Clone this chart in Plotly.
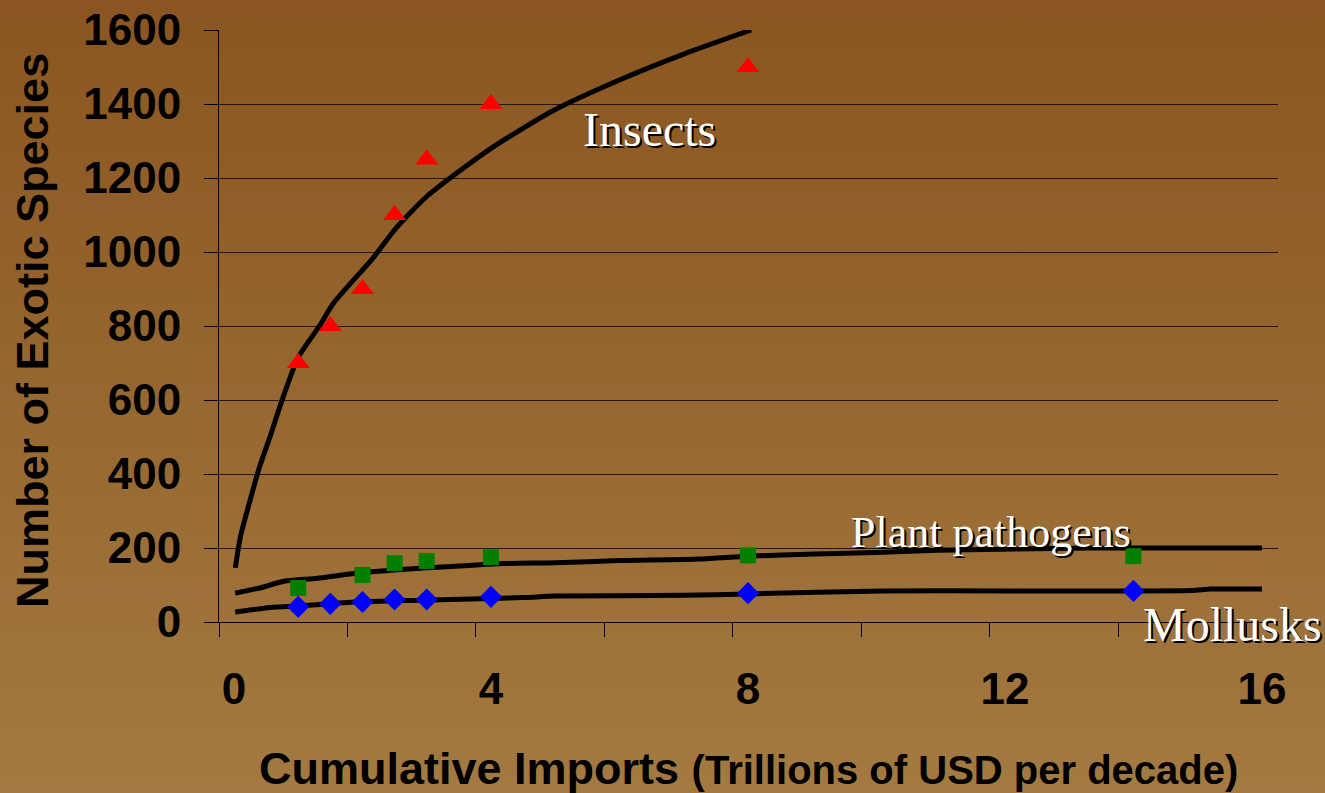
import base64
import plotly.graph_objects as go

# ---------------- data ----------------
insect_x = [1, 1.5, 2, 2.5, 3, 4, 8]
insect_y = [700, 800, 900, 1100, 1250, 1400, 1500]

path_x = [1, 2, 2.5, 3, 4, 8, 14]
path_y = [92, 127, 159, 165, 175, 180, 178]

moll_x = [1, 1.5, 2, 2.5, 3, 4, 8, 14]
moll_y = [41, 49, 54, 61, 61, 68, 78, 84]

# fitted curves
ins_fit_x = [0.02, 0.1, 0.26, 0.4, 0.57, 0.73, 1.0, 1.35, 1.55, 2.17, 2.5, 3.0, 4.0, 5.0, 6.0, 7.0, 8.05]
ins_fit_y = [146, 230, 335, 420, 505, 590, 715, 805, 862, 985, 1060, 1150, 1280, 1385, 1465, 1535, 1600]

path_fit_x = [0.02, 0.4, 0.78, 1.3, 1.8, 2.6, 3.3, 4.2, 5.0, 6.0, 7.25, 8.0, 9.05, 10.0, 10.96, 13.3, 16]
path_fit_y = [78, 92, 110, 118, 130, 142, 149, 158, 160, 166, 170, 178, 184, 188, 194, 200, 200]

moll_fit_x = [0.02, 0.6, 1.0, 1.9, 2.9, 4.5, 5.0, 7.0, 8.0, 10.1, 12.0, 14.9, 15.2, 16]
moll_fit_y = [27, 40, 43, 54, 59, 66, 70, 72, 76, 84, 84, 85, 89, 89]

x_ticks = [0, 4, 8, 12, 16]
y_ticks = [0, 200, 400, 600, 800, 1000, 1200, 1400, 1600]

labels = ["Insects", "Plant pathogens", "Mollusks"]

# ---------------- layout geometry ----------------
W, H = 1325, 793
ML, MR, MT, MB = 219, 47, 30, 171
PW, PH = W - ML - MR, H - MT - MB


def px_x(p):
    return (p - ML) / PW


def px_y(p):
    return 1 - (p - MT) / PH


svg = (
    '<svg xmlns="http://www.w3.org/2000/svg" width="1325" height="793">'
    '<defs><linearGradient id="g" x1="0" y1="0" x2="0" y2="1">'
    '<stop offset="0" stop-color="#8A5520"/>'
    '<stop offset="1" stop-color="#A37A41"/>'
    '</linearGradient></defs>'
    '<rect width="1325" height="793" fill="url(#g)"/></svg>'
)
bg_src = "data:image/svg+xml;base64," + base64.b64encode(svg.encode()).decode()

fig = go.Figure()

for fx, fy in [(ins_fit_x, ins_fit_y), (path_fit_x, path_fit_y), (moll_fit_x, moll_fit_y)]:
    fig.add_trace(go.Scatter(x=fx, y=fy, mode="lines",
                             line=dict(color="black", width=5, shape="spline", smoothing=0.6),
                             hoverinfo="skip", showlegend=False))

fig.add_trace(go.Scatter(x=insect_x, y=insect_y, mode="markers",
                         marker=dict(symbol="triangle-up", color="#FF0000", size=20),
                         name="Insects", showlegend=False))
fig.add_trace(go.Scatter(x=path_x, y=path_y, mode="markers",
                         marker=dict(symbol="square", color="#008000", size=16),
                         name="Plant pathogens", showlegend=False))
fig.add_trace(go.Scatter(x=moll_x, y=moll_y, mode="markers",
                         marker=dict(symbol="diamond", color="#0000FF", size=17),
                         name="Mollusks", showlegend=False))

tick_font = dict(family="Liberation Sans, Arial, sans-serif", size=44, color="black", weight="bold")

fig.update_xaxes(
    range=[-0.233, 16.25], tickvals=x_ticks, ticktext=[str(v) for v in x_ticks],
    ticks="", showgrid=False, zeroline=False,
    showline=True, linecolor="black", linewidth=1,
    tickfont=tick_font, ticklabelstandoff=28,
    minor=dict(tick0=-0.233, dtick=2, ticks="outside", ticklen=14, tickcolor="black", tickwidth=1, showgrid=False),
)
fig.update_yaxes(
    range=[0, 1600], tickvals=y_ticks, ticks="outside", ticklen=14, tickcolor="black",
    showgrid=True, gridcolor="#24160a", gridwidth=1.3, zeroline=False,
    showline=True, linecolor="black", linewidth=1,
    tickfont=tick_font, ticklabelstandoff=14,
)

annotations = []
# series labels with drop shadow
lab_pos = [(649, 130, 48), (991, 532, 44), (1232, 624, 48)]
for text, (lx, ly, fs) in zip(labels, lab_pos):
    for color, dx, dy in [("black", 2, -2), ("white", 0, 0)]:
        annotations.append(dict(
            text=text, xref="paper", yref="paper", x=px_x(lx), y=px_y(ly),
            xanchor="center", yanchor="middle", showarrow=False,
            xshift=dx, yshift=dy,
            font=dict(family="Liberation Serif, Times New Roman, serif", size=fs, color=color),
        ))

# axis titles
annotations.append(dict(
    text="Number of Exotic Species", xref="paper", yref="paper",
    x=px_x(32), y=px_y(331), xanchor="center", yanchor="middle", textangle=-90,
    showarrow=False,
    font=dict(family="Liberation Sans, Arial, sans-serif", size=45, color="black", weight="bold"),
))
annotations.append(dict(
    text="Cumulative Imports <span style='font-size:40px'>(Trillions of USD per decade)</span>",
    xref="paper", yref="paper", x=px_x(748), y=px_y(768), xanchor="center", yanchor="middle",
    showarrow=False,
    font=dict(family="Liberation Sans, Arial, sans-serif", size=45, color="black", weight="bold"),
))

fig.update_layout(
    width=W, height=H,
    margin=dict(l=ML, r=MR, t=MT, b=MB, autoexpand=False),
    paper_bgcolor="#97693A", plot_bgcolor="rgba(0,0,0,0)",
    showlegend=False,
    annotations=annotations,
    images=[dict(source=bg_src, xref="paper", yref="paper",
                 x=-ML / PW, y=1 + MT / PH, sizex=W / PW, sizey=H / PH,
                 xanchor="left", yanchor="top", sizing="stretch", layer="below")],
)

fig.write_html(
    "out.html",
    config={"displayModeBar": False},
    post_script="document.body.style.margin='0';document.body.style.overflow='hidden';",
)
